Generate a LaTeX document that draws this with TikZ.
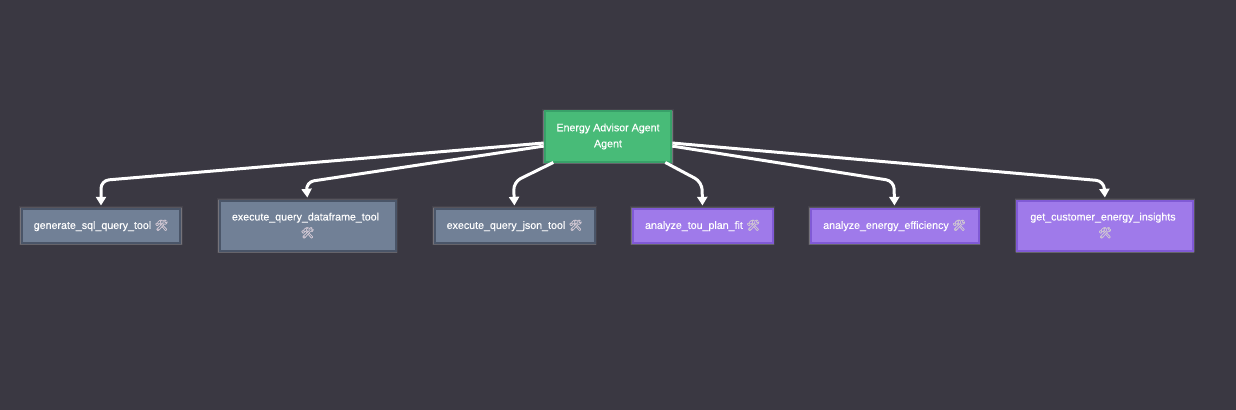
\documentclass[tikz,border=0pt]{standalone}
\usepackage{fontspec}
\setmainfont[FakeBold=0.25]{Liberation Sans}
\newfontfamily\emojifont[FakeBold=1.5]{Noto Emoji}
\usetikzlibrary{arrows.meta}
\definecolor{bgc}{HTML}{3A3842}
\definecolor{slatefill}{HTML}{718096}
\definecolor{slateline}{HTML}{4A5568}
\definecolor{purplefill}{HTML}{9F7AEA}
\definecolor{purpleline}{HTML}{805AD5}
\definecolor{greenfill}{HTML}{48BB78}
\definecolor{greenline}{HTML}{38A169}
\definecolor{iconc}{HTML}{CFC6D2}
\newcommand{\toolicon}{{\emojifont\fontsize{8}{12}\selectfont\color{iconc}\symbol{"1F6E0}}}
\newcommand{\upline}[1]{\raisebox{1.2pt}{#1\hspace{2.6pt}\toolicon}}
\newcommand{\downline}[1]{\raisebox{-.6pt}{#1}}
\newcommand{\wrapline}[1]{\raisebox{0pt}{#1\hspace{3pt}}}
\tikzset{
  x=0.75pt,y=-0.75pt,
  boxbase/.style={rectangle,line width=1.5pt,text=white,align=center,inner sep=0pt,
    font=\fontsize{8}{12}\selectfont,
    preaction={draw=white,draw opacity=.05,line width=3.6pt},
    preaction={draw=white,draw opacity=.10,line width=2.8pt},
    preaction={draw=white,draw opacity=.18,line width=2.2pt,transform canvas={yshift=-.6pt}}},
  slatebox/.style={boxbase,fill=slatefill,draw=slateline},
  purplebox/.style={boxbase,fill=purplefill,draw=purpleline},
  agentbox/.style={boxbase,fill=greenfill,draw=greenline},
  edgeline/.style={draw=white,line width=2.25pt,rounded corners=6pt,shorten >=1.5pt,
    -{Stealth[length=6.5pt,width=7.5pt,inset=0pt]}},
}
\begin{document}
\begin{tikzpicture}
\useasboundingbox[fill=bgc] (0,0) rectangle (1236,410);
\node[agentbox,minimum width=95pt,minimum height=37.5pt] (agent) at (608,136.5) {\downline{Energy Advisor Agent}\\\downline{Agent}};
\node[slatebox,minimum width=119pt,minimum height=25.5pt] (t1) at (101,225.5) {\upline{generate\_sql\_query\_tool}};
\node[slatebox,minimum width=132pt,minimum height=37.5pt] (t2) at (307.5,225.5) {\wrapline{execute\_query\_dataframe\_tool}\\\toolicon};
\node[slatebox,minimum width=120pt,minimum height=25.5pt] (t3) at (514.5,225.5) {\upline{execute\_query\_json\_tool}};
\node[purplebox,minimum width=105pt,minimum height=25.5pt] (t4) at (702.5,225.5) {\upline{analyze\_tou\_plan\_fit}};
\node[purplebox,minimum width=126pt,minimum height=25.5pt] (t5) at (894.5,225.5) {\upline{analyze\_energy\_efficiency}};
\node[purplebox,minimum width=132pt,minimum height=37.5pt] (t6) at (1105,225.5) {\wrapline{get\_customer\_energy\_insights}\\\toolicon};
\coordinate (b1) at (101,180.5);
\coordinate (b2) at (306,182);
\coordinate (b3) at (513.5,182);
\coordinate (b4) at (702,182);
\coordinate (b5) at (894,181);
\coordinate (b6) at (1104,181);
\draw[edgeline] ([yshift=-4.9pt]agent.west) -- (b1) -- (t1.north);
\draw[edgeline] ([yshift=-7.2pt]agent.west) -- (b2) -- (t2.north);
\draw[edgeline] ([xshift=-41pt]agent.south) -- (b3) -- (t3.north);
\draw[edgeline] ([xshift=43pt]agent.south) -- (b4) -- (t4.north);
\draw[edgeline] ([yshift=-7.2pt]agent.east) -- (b5) -- (t5.north);
\draw[edgeline] ([yshift=-4.9pt]agent.east) -- (b6) -- (t6.north);
\end{tikzpicture}
\end{document}
